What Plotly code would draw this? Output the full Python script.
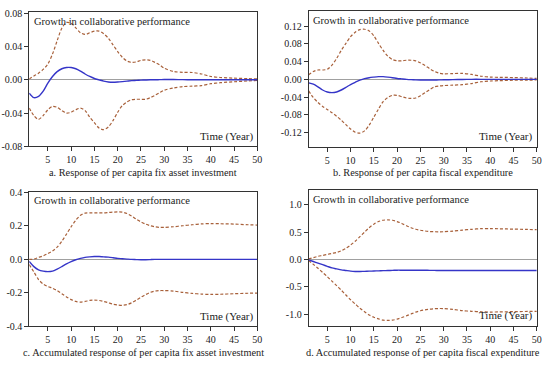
import plotly.graph_objects as go

YEARS = list(range(1, 31)) + [32, 34, 36, 38, 40, 42, 45, 48, 50]

# Panel a: Response of per capita fix asset investment
A_UP = [0.001, 0.0047, 0.008, 0.0125, 0.019, 0.031, 0.047, 0.062, 0.069, 0.068,
        0.0625, 0.0566, 0.0546, 0.0566, 0.0585, 0.0585, 0.0554, 0.050, 0.042, 0.034,
        0.027, 0.0226, 0.021, 0.0215, 0.0234, 0.024, 0.0234, 0.021, 0.018, 0.014,
        0.010, 0.009, 0.0088, 0.007, 0.004, 0.0028, 0.002, 0.0014, 0.001]
A_LO = [-0.034, -0.043, -0.0476, -0.043, -0.036, -0.032, -0.033, -0.037, -0.040, -0.039,
        -0.036, -0.034, -0.037, -0.045, -0.0515, -0.058, -0.060, -0.0566, -0.049, -0.039,
        -0.031, -0.0265, -0.024, -0.0234, -0.0234, -0.0234, -0.0215, -0.0187, -0.0155, -0.0125,
        -0.0098, -0.0082, -0.0076, -0.007, -0.0047, -0.0035, -0.0023, -0.0014, -0.0008]
A_MID = [-0.016, -0.0215, -0.020, -0.0137, -0.004, 0.004, 0.0098, 0.0133, 0.0148, 0.0148,
         0.0133, 0.0105, 0.007, 0.004, 0.0016, 0.0, -0.0016, -0.0027, -0.003, -0.0027,
         -0.0022, -0.0016, -0.001, -0.0007, -0.0004, -0.0002, 0.0, 0.0, 0.0002, 0.0004,
         0.0003, 0.0002, 0.0001, 0.0, 0.0, 0.0, 0.0, 0.0, 0.0]

# Panel b: Response of per capita fiscal expenditure
B_UP = [0.010, 0.0176, 0.021, 0.021, 0.0227, 0.032, 0.047, 0.065, 0.081, 0.096,
        0.106, 0.112, 0.1127, 0.109, 0.098, 0.081, 0.065, 0.052, 0.0446, 0.0417,
        0.0417, 0.043, 0.043, 0.0417, 0.037, 0.031, 0.024, 0.018, 0.014, 0.0124,
        0.013, 0.0135, 0.011, 0.007, 0.005, 0.0045, 0.004, 0.003, 0.002]
B_LO = [-0.026, -0.041, -0.052, -0.061, -0.068, -0.075, -0.083, -0.092, -0.102, -0.112,
        -0.119, -0.121, -0.116, -0.103, -0.085, -0.067, -0.050, -0.041, -0.036, -0.036,
        -0.039, -0.042, -0.043, -0.042, -0.037, -0.030, -0.023, -0.017, -0.015, -0.014,
        -0.013, -0.012, -0.0095, -0.0055, -0.0037, -0.003, -0.002, -0.0017, -0.0015]
B_MID = [-0.008, -0.011, -0.017, -0.024, -0.0285, -0.030, -0.0285, -0.024, -0.018, -0.0117,
         -0.0066, -0.002, 0.0015, 0.0037, 0.005, 0.006, 0.006, 0.005, 0.0037, 0.002,
         0.001, 0.0, -0.0007, -0.0012, -0.0015, -0.0015, -0.0015, -0.0015, -0.0013, -0.0011,
         -0.0007, -0.0003, 0.0, 0.0, 0.0, 0.0, 0.0, 0.0, 0.0]

# Panel c: Accumulated response of per capita fix asset investment
C_UP = [0.0, 0.002, 0.012, 0.021, 0.035, 0.05, 0.073, 0.108, 0.151, 0.195,
        0.234, 0.263, 0.276, 0.278, 0.278, 0.278, 0.278, 0.28, 0.282, 0.284,
        0.282, 0.274, 0.259, 0.24, 0.224, 0.211, 0.201, 0.195, 0.191, 0.191,
        0.195, 0.201, 0.207, 0.212, 0.214, 0.213, 0.211, 0.207, 0.205]
C_LO = [-0.031, -0.075, -0.12, -0.147, -0.162, -0.172, -0.186, -0.205, -0.224, -0.24,
        -0.251, -0.255, -0.251, -0.245, -0.243, -0.245, -0.251, -0.259, -0.267, -0.272,
        -0.274, -0.27, -0.259, -0.243, -0.226, -0.21, -0.197, -0.189, -0.186, -0.186,
        -0.189, -0.197, -0.203, -0.207, -0.209, -0.208, -0.205, -0.202, -0.201]
C_MID = [-0.012, -0.043, -0.062, -0.07, -0.073, -0.07, -0.058, -0.043, -0.027, -0.0135,
         -0.002, 0.006, 0.012, 0.015, 0.017, 0.017, 0.015, 0.0135, 0.01, 0.006,
         0.004, 0.002, 0.0, -0.001, -0.002, -0.002, -0.001, 0.0, 0.0, 0.0,
         0.0, 0.0, 0.0, 0.0, 0.0, 0.0, 0.0, 0.0, 0.0]

# Panel d: Accumulated response of per capita fiscal expenditure
D_UP = [0.012, 0.035, 0.059, 0.076, 0.094, 0.112, 0.13, 0.159, 0.206, 0.265,
        0.335, 0.418, 0.5, 0.582, 0.647, 0.694, 0.718, 0.724, 0.718, 0.694,
        0.659, 0.618, 0.582, 0.553, 0.535, 0.522, 0.512, 0.508, 0.506, 0.508,
        0.52, 0.538, 0.552, 0.565, 0.565, 0.562, 0.556, 0.55, 0.547]
D_LO = [-0.018, -0.088, -0.159, -0.235, -0.312, -0.394, -0.476, -0.559, -0.647, -0.735,
        -0.812, -0.888, -0.953, -1.012, -1.053, -1.082, -1.106, -1.112, -1.106, -1.088,
        -1.059, -1.029, -0.994, -0.959, -0.935, -0.918, -0.906, -0.898, -0.894, -0.895,
        -0.91, -0.932, -0.945, -0.953, -0.959, -0.956, -0.951, -0.948, -0.947]
D_MID = [-0.006, -0.035, -0.065, -0.094, -0.124, -0.153, -0.171, -0.188, -0.2, -0.212,
         -0.218, -0.218, -0.215, -0.212, -0.209, -0.206, -0.203, -0.2, -0.197, -0.194,
         -0.194, -0.194, -0.194, -0.194, -0.195, -0.196, -0.197, -0.198, -0.199, -0.2,
         -0.2, -0.2, -0.2, -0.2, -0.2, -0.2, -0.2, -0.2, -0.2]

X_TICKS = [5, 10, 15, 20, 25, 30, 35, 40, 45, 50]
Y_TICKS = {
    "a": ([-0.08, -0.04, 0.0, 0.04, 0.08], ["-0.08", "-0.04", "0.00", "0.04", "0.08"]),
    "b": ([-0.12, -0.08, -0.04, 0.0, 0.04, 0.08, 0.12],
          ["-0.12", "-0.08", "-0.04", "0.00", "0.04", "0.08", "0.12"]),
    "c": ([-0.4, -0.2, 0.0, 0.2, 0.4], ["-0.4", "-0.2", "0.0", "0.2", "0.4"]),
    "d": ([-1.0, -0.5, 0.0, 0.5, 1.0], ["-1.0", "-0.5", "0.0", "0.5", "1.0"]),
}
CAPTIONS = {
    "a": "a. Response of per capita fix asset investment",
    "b": "b. Response of per capita fiscal expenditure",
    "c": "c. Accumulated response of per capita fix asset investment",
    "d": "d. Accumulated response of per capita fiscal expenditure",
}
INNER_TITLE = "Growth in collaborative performance"
X_TITLE = "Time (Year)"

W, H = 550, 368
FONT = "Liberation Serif, Times New Roman, serif"
BLUE = "#3535c8"
BAND = "#a8603a"

panels = {
    "a": dict(up=A_UP, lo=A_LO, mid=A_MID, yr=[-0.08, 0.0812], px=(29.5, 259.7), py=(7.5, 145.7)),
    "b": dict(up=B_UP, lo=B_LO, mid=B_MID, yr=[-0.1515, 0.1527], px=(311.5, 541.7), py=(6.7, 146.0)),
    "c": dict(up=C_UP, lo=C_LO, mid=C_MID, yr=[-0.4, 0.404], px=(29.5, 259.7), py=(192.5, 331.3)),
    "d": dict(up=D_UP, lo=D_LO, mid=D_MID, yr=[-1.21, 1.265], px=(311.5, 541.7), py=(191.0, 330.7)),
}

fig = go.Figure()
layout = dict(width=W, height=H, autosize=False, margin=dict(l=0, r=0, t=0, b=0, pad=0),
              paper_bgcolor="white", plot_bgcolor="white", showlegend=False,
              font=dict(family=FONT, size=10, color="#222"))
annotations = []

for i, (key, p) in enumerate(panels.items()):
    n = "" if i == 0 else str(i + 1)
    xa, ya = "x" + n, "y" + n
    for series, color, dash, width in ((p["up"], BAND, "3px,2px", 1.2),
                                       (p["lo"], BAND, "3px,2px", 1.2),
                                       (p["mid"], BLUE, "solid", 1.4)):
        fig.add_trace(go.Scatter(x=YEARS, y=series, mode="lines", xaxis=xa, yaxis=ya,
                                 line=dict(color=color, dash=dash, width=width, shape="spline", smoothing=0.8),
                                 hoverinfo="skip"))
    x0, x1 = p["px"][0] / W, p["px"][1] / W
    y0, y1 = 1 - p["py"][1] / H, 1 - p["py"][0] / H
    tv, tt = Y_TICKS[key]
    layout["xaxis" + n] = dict(domain=[x0, x1], range=[1, 50], anchor=ya, tickvals=X_TICKS,
                               ticks="outside", ticklen=4, tickcolor="#333", showgrid=False,
                               zeroline=False, showline=True, linecolor="#333", linewidth=1,
                               mirror=True, tickfont=dict(family=FONT, size=10, color="#222"))
    layout["yaxis" + n] = dict(domain=[y0, y1], range=p["yr"], anchor=xa, tickvals=tv, ticktext=tt,
                               ticks="outside", ticklen=4, tickcolor="#333", showgrid=False,
                               zeroline=True, zerolinecolor="#a0a0a0", zerolinewidth=1.2,
                               showline=True, linecolor="#333", linewidth=1, mirror=True,
                               tickfont=dict(family=FONT, size=10, color="#222"))
    annotations.append(dict(text=INNER_TITLE, x=x0 + 2.5 / W, y=y1 - 1.5 / H, xref="paper", yref="paper",
                            xanchor="left", yanchor="top", showarrow=False,
                            font=dict(family=FONT, size=10.5, color="#222")))
    annotations.append(dict(text=X_TITLE, x=x1 - 1.5 / W, y=y0 + 1.5 / H, xref="paper", yref="paper",
                            xanchor="right", yanchor="bottom", showarrow=False,
                            font=dict(family=FONT, size=11, color="#222")))
    annotations.append(dict(text=CAPTIONS[key], x=(x0 + x1) / 2, y=1 - (p["py"][1] + 27) / H,
                            xref="paper", yref="paper", xanchor="center", yanchor="middle",
                            showarrow=False, font=dict(family=FONT, size=10.3, color="#222")))

layout["annotations"] = annotations
fig.update_layout(**layout)
fig.write_html("out.html", config={"displayModeBar": False},
               post_script="document.body.style.margin='0';document.body.style.padding='0';")
